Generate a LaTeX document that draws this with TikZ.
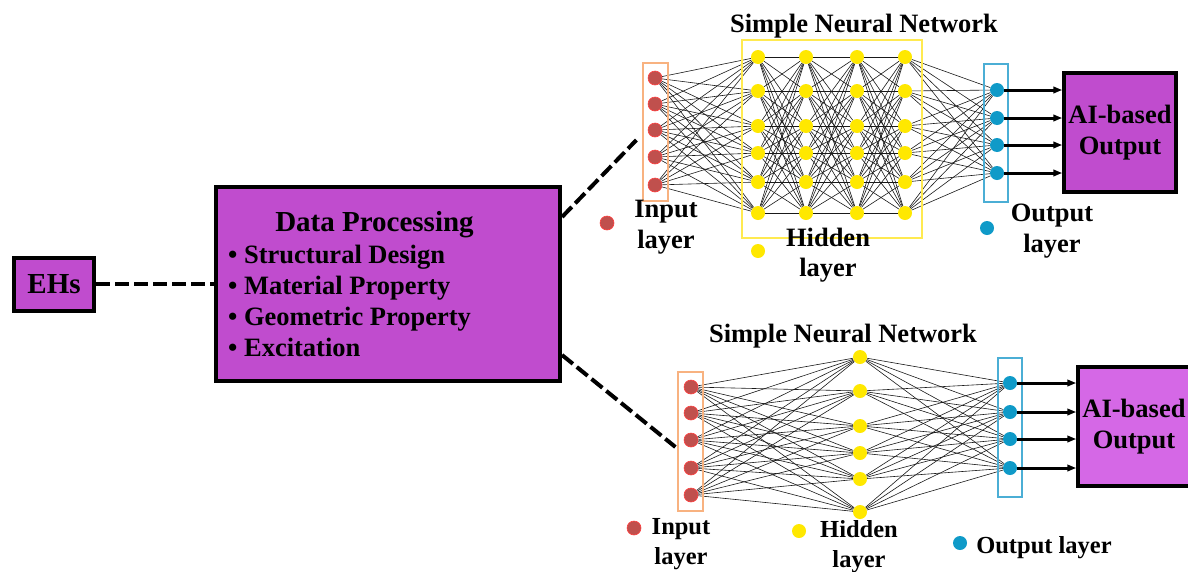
\documentclass[tikz,border=0pt]{standalone}
\usepackage{fontspec}
\setmainfont{Liberation Serif}
\usepackage{tikz}
\usetikzlibrary{positioning}
\usetikzlibrary{calc}
\usetikzlibrary{arrows.meta}
\pgfdeclarelayer{netbg}
\pgfsetlayers{netbg,main}
\definecolor{dpurple}{RGB}{192,76,206}
\definecolor{lpurple}{RGB}{213,104,230}
\definecolor{inred}{RGB}{192,80,77}
\definecolor{hidyellow}{RGB}{255,232,0}
\definecolor{outblue}{RGB}{15,154,200}
\definecolor{inframe}{RGB}{248,178,128}
\definecolor{hidframe}{RGB}{255,234,80}
\definecolor{outframe}{RGB}{75,174,213}

\begin{document}
\begin{tikzpicture}[x=1pt, y=-1pt,
		neuron/.style={circle, inner sep=0pt, minimum size=14pt},
		inneuron/.style={neuron, fill=inred, draw=red!75, line width=0.6pt},
		hidneuron/.style={neuron, fill=hidyellow},
		outneuron/.style={neuron, fill=outblue},
		frame/.style={draw, line width=1.2pt, inner sep=0pt},
		bigbox/.style={draw, line width=4pt, inner sep=0pt, align=center},
		txt/.style={inner sep=0pt, font=\fontsize{26.5}{30.5}\selectfont\bfseries, align=center},
		smalltxt/.style={inner sep=0pt, font=\fontsize{24.5}{30}\selectfont\bfseries, align=center},
		headtxt/.style={inner sep=0pt, font=\fontsize{29}{33}\selectfont\bfseries},
		wire/.style={line width=0.6pt, black!90},
		link/.style={line width=4pt, dash pattern=on 14pt off 5pt},
		outarrow/.style={line width=3pt, -{Triangle[length=9pt,width=6.5pt]}}]
		\useasboundingbox (0,0) rectangle (1188,571);

		% source and processing block
		\node at (54,284) [bigbox, fill=dpurple, minimum width=80pt, minimum height=53pt, headtxt] (ehs) {EHs};
		\node at (388,284) [bigbox, fill=dpurple, minimum width=344pt, minimum height=194pt] (dp) {};
		\node at (374.5,231) [anchor=base, headtxt] (dptitle) {Data Processing};
		\foreach \prop [count=\i] in {Structural Design, Material Property, Geometric Property, Excitation} {
			\node at (228,232+31*\i) [anchor=base west, txt] (dpitem\i) {\textbullet\ \prop};
		}
		\draw [link] (ehs) -- (dp);

		% upper network
		\node at (864,32) [anchor=base, txt] (toptitle) {Simple Neural Network};
		\foreach \y [count=\i] in {78,104,130,157,185} {
			\node at (655,\y) [inneuron] (in-\i) {};
		}
		\foreach \x [count=\c] in {758,806,857,905} {
			\foreach \y [count=\j] in {57,91,126,153,182,213} {
				\node at (\x,\y) [hidneuron] (h\c-\j) {};
			}
		}
		\foreach \y [count=\k] in {90,118,145,173} {
			\node at (997,\y) [outneuron] (out-\k) {};
		}
		\node at (655.5,132) [frame, draw=inframe, minimum width=25pt, minimum height=138pt] (inbox) {};
		\node at (832,139) [frame, draw=hidframe, minimum width=180pt, minimum height=198pt] (hidbox) {};
		\node at (996,133) [frame, draw=outframe, minimum width=24pt, minimum height=138pt] (outbox) {};
		\node at (1120,132.5) [bigbox, line width=3.5pt, fill=dpurple, minimum width=112pt, minimum height=119pt, txt] (aitop) {AI-based\\Output};
		\begin{pgfonlayer}{netbg}
			\foreach \i in {1,...,5} {
				\foreach \j in {1,...,6} {
					\draw [wire] (in-\i) -- (h1-\j);
				}
			}
			\foreach \c [evaluate=\c as \n using int(\c+1)] in {1,2,3} {
				\foreach \i in {1,...,6} {
					\foreach \j in {1,...,6} {
						\draw [wire] (h\c-\i) -- (h\n-\j);
					}
				}
			}
			\foreach \i in {1,...,6} {
				\foreach \k in {1,...,4} {
					\draw [wire] (h4-\i) -- (out-\k);
				}
			}
		\end{pgfonlayer}
		\foreach \k in {1,...,4} {
			\draw [outarrow] (out-\k) -- (out-\k -| aitop.west);
		}
		\node at (607,223) [inneuron] (legin) {};
		\node at (666,227) [txt] (leginlbl) {Input\\layer};
		\node at (758,251) [hidneuron] (leghid) {};
		\node at (828,255) [txt] (leghidlbl) {Hidden\\layer};
		\node at (987,228) [outneuron] (legout) {};
		\node at (1052,231) [txt] (legoutlbl) {Output\\layer};
		\draw [link] ([yshift=67pt]dp.east) -- ([xshift=-6pt,yshift=-8pt]inbox.west);

		% lower network
		\node at (843,342) [anchor=base, txt] (bottitle) {Simple Neural Network};
		\foreach \y [count=\i] in {387,413,440,468,495} {
			\node at (691,\y) [inneuron] (bin-\i) {};
		}
		\foreach \y [count=\j] in {357,391,426,453,479,512} {
			\node at (860,\y) [hidneuron] (bh-\j) {};
		}
		\foreach \y [count=\k] in {383,412,439,468} {
			\node at (1010,\y) [outneuron] (bout-\k) {};
		}
		\node at (690.5,441.5) [frame, draw=inframe, minimum width=25pt, minimum height=139pt] (binbox) {};
		\node at (1010,427.5) [frame, draw=outframe, minimum width=24pt, minimum height=139pt] (boutbox) {};
		\node at (1134,426.5) [bigbox, line width=3.5pt, fill=lpurple, minimum width=112pt, minimum height=119pt, txt] (aibot) {AI-based\\Output};
		\begin{pgfonlayer}{netbg}
			\foreach \i in {1,...,5} {
				\foreach \j in {1,...,6} {
					\draw [wire] (bin-\i) -- (bh-\j);
				}
			}
			\foreach \j in {1,...,6} {
				\foreach \k in {1,...,4} {
					\draw [wire] (bh-\j) -- (bout-\k);
				}
			}
		\end{pgfonlayer}
		\foreach \k in {1,...,4} {
			\draw [outarrow] (bout-\k) -- (bout-\k -| aibot.west);
		}
		\node at (634,528) [inneuron] (blegin) {};
		\node at (681,544.5) [smalltxt] (bleginlbl) {Input\\layer};
		\node at (799,531) [hidneuron] (bleghid) {};
		\node at (859,546.5) [smalltxt] (bleghidlbl) {Hidden\\layer};
		\node at (960,543) [outneuron] (blegout) {};
		\node at (1044,553) [anchor=base, smalltxt] (blegoutlbl) {Output layer};
		\draw [link] ([yshift=-71pt]dp.east) -- ([xshift=-2pt,yshift=-5.5pt]binbox.west);
\end{tikzpicture}
\end{document}
